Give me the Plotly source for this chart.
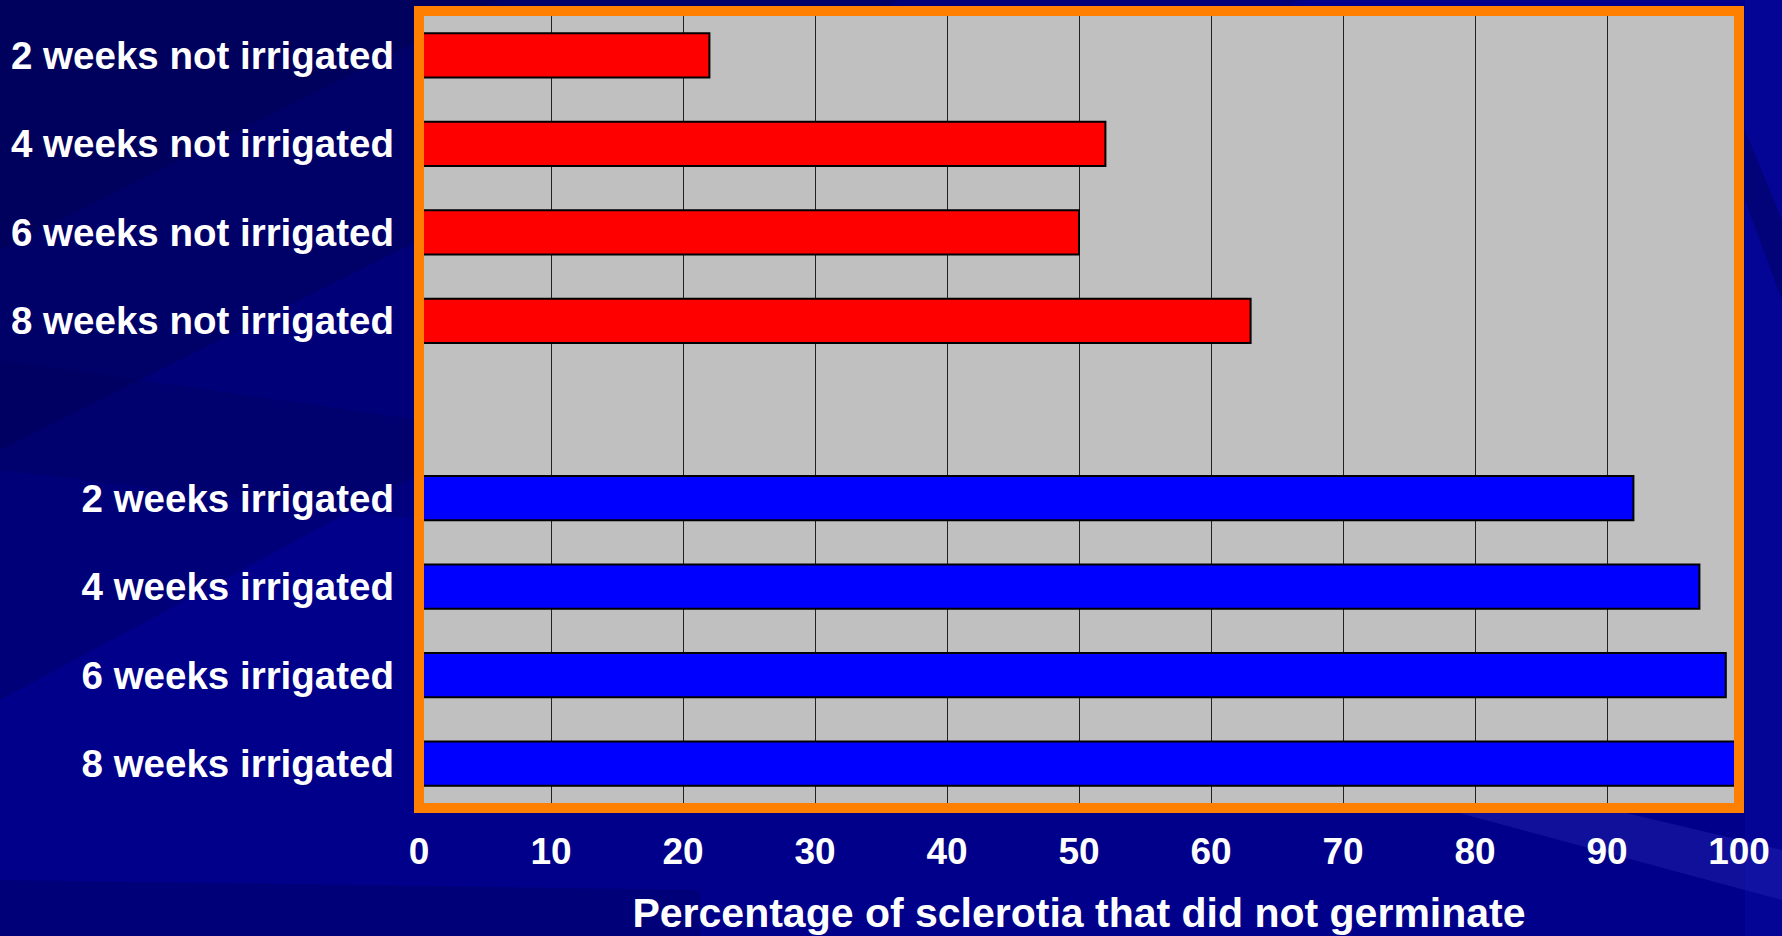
import plotly.graph_objects as go

# ---- data ----
not_irrigated_labels = ["2 weeks not irrigated", "4 weeks not irrigated",
                        "6 weeks not irrigated", "8 weeks not irrigated"]
not_irrigated_values = [22, 52, 50, 63]
irrigated_labels = ["2 weeks irrigated", "4 weeks irrigated",
                    "6 weeks irrigated", "8 weeks irrigated"]
irrigated_values = [92, 97, 99, 100]
x_tick_values = [0, 10, 20, 30, 40, 50, 60, 70, 80, 90, 100]
x_title = "Percentage of sclerotia that did not germinate"

# category slots (one empty slot between the groups)
red_pos = list(range(len(not_irrigated_labels)))
blue_pos = [len(not_irrigated_labels) + 1 + i for i in range(len(irrigated_labels))]

W, H = 1782, 936
L, R, T, B = 419, 43, 11, 128
PW, PH = W - L - R, H - T - B


def px(xp):
    return (xp - L) / PW


def py(yp):
    return (H - B - yp) / PH


fig = go.Figure()
fig.add_trace(go.Bar(
    x=not_irrigated_values, y=red_pos, orientation="h", width=0.5,
    marker=dict(color="#FF0000", line=dict(color="#000000", width=2)),
    showlegend=False, hoverinfo="x+y"))
fig.add_trace(go.Bar(
    x=irrigated_values, y=blue_pos, orientation="h", width=0.5,
    marker=dict(color="#0000FF", line=dict(color="#000000", width=2)),
    showlegend=False, hoverinfo="x+y"))

font_family = "Liberation Sans, Arial, sans-serif"

shapes = []


def poly(points, color):
    d = "M " + " L ".join(f"{px(a):.4f},{py(b):.4f}" for a, b in points) + " Z"
    shapes.append(dict(type="path", path=d, xref="paper", yref="paper",
                       fillcolor=color, line=dict(width=0), layer="below"))


# background shading (subtle, layered for a soft gradient look)
poly([(0, 0), (1300, 0), (0, 700)], "rgba(0,0,40,0.18)")
poly([(0, 0), (900, 0), (0, 450)], "rgba(0,0,40,0.18)")
poly([(0, 0), (500, 0), (0, 250)], "rgba(0,0,40,0.18)")
poly([(0, 360), (420, 420), (420, 520), (0, 470)], "rgba(0,0,40,0.10)")
poly([(0, 880), (700, 890), (700, 936), (0, 936)], "rgba(0,0,40,0.18)")
poly([(1150, 700), (1782, 850), (1782, 900), (1300, 770)], "rgba(110,110,255,0.14)")
poly([(1745, 0), (1782, 0), (1782, 936), (1745, 936)], "rgba(20,20,200,0.18)")
poly([(1745, 130), (1782, 220), (1782, 300), (1745, 200)], "rgba(0,0,40,0.25)")
# plot area fill (drawn over background shading)
shapes.append(dict(type="rect", xref="paper", yref="paper", x0=0, x1=1, y0=0, y1=1,
                   fillcolor="#C0C0C0", line=dict(width=0), layer="below"))
# orange frame
shapes.append(dict(type="rect", xref="paper", yref="paper",
                   x0=0, x1=1, y0=0, y1=1,
                   line=dict(color="#FF8000", width=10), fillcolor="rgba(0,0,0,0)",
                   layer="above"))

fig.update_layout(
    width=W, height=H,
    margin=dict(l=L, r=R, t=T, b=B, pad=0, autoexpand=False),
    paper_bgcolor="#00008A",
    plot_bgcolor="#C0C0C0",
    shapes=shapes,
    font=dict(family=font_family, color="white"),
    xaxis=dict(
        range=[0, 100], tickvals=x_tick_values, showgrid=True,
        gridcolor="#222222", gridwidth=1, zeroline=False, showline=False,
        ticks="", ticklabelstandoff=18, automargin=False,
        tickfont=dict(family=font_family, size=37, color="white", weight="bold"),
        title=dict(text=x_title, standoff=33,
                   font=dict(family=font_family, size=41, color="white", weight="bold")),
        fixedrange=True,
    ),
    yaxis=dict(
        range=[8.5, -0.5],
        tickvals=red_pos + blue_pos,
        ticktext=not_irrigated_labels + irrigated_labels,
        showgrid=False, zeroline=False, showline=False, ticks="",
        ticklabelstandoff=24, automargin=False,
        tickfont=dict(family=font_family, size=38.5, color="white", weight="bold"),
        fixedrange=True,
    ),
)

fig.write_html("out.html")
